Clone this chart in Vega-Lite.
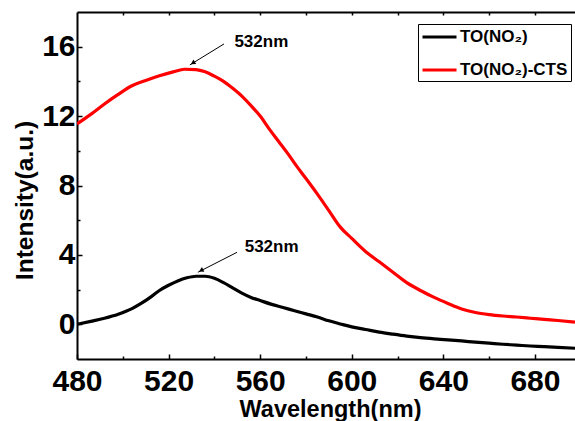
{
  "$schema": "https://vega.github.io/schema/vega-lite/v6.json",
  "width": 498,
  "height": 347,
  "autosize": {"type": "none"},
  "padding": {"left": 77, "top": 12, "right": 0, "bottom": 62},
  "background": "white",
  "config": {
    "view": {"stroke": null},
    "font": "Liberation Sans",
    "axis": {"grid": false, "domainColor": "black", "tickColor": "black", "labelColor": "black", "titleColor": "black", "domainWidth": 2, "tickWidth": 1.5, "labelFont": "Liberation Sans", "titleFont": "Liberation Sans", "labelFontWeight": "bold", "titleFontWeight": "bold"}
  },
  "datasets": {
    "curves": [
      {"wl": 480, "val": 0.0, "s": "TO(NO₂)"},
      {"wl": 486, "val": 0.17, "s": "TO(NO₂)"},
      {"wl": 492, "val": 0.35, "s": "TO(NO₂)"},
      {"wl": 498, "val": 0.58, "s": "TO(NO₂)"},
      {"wl": 504, "val": 0.9, "s": "TO(NO₂)"},
      {"wl": 508, "val": 1.2, "s": "TO(NO₂)"},
      {"wl": 512, "val": 1.55, "s": "TO(NO₂)"},
      {"wl": 516, "val": 1.95, "s": "TO(NO₂)"},
      {"wl": 520, "val": 2.25, "s": "TO(NO₂)"},
      {"wl": 524, "val": 2.5, "s": "TO(NO₂)"},
      {"wl": 528, "val": 2.68, "s": "TO(NO₂)"},
      {"wl": 532, "val": 2.77, "s": "TO(NO₂)"},
      {"wl": 536, "val": 2.77, "s": "TO(NO₂)"},
      {"wl": 540, "val": 2.65, "s": "TO(NO₂)"},
      {"wl": 544, "val": 2.4, "s": "TO(NO₂)"},
      {"wl": 548, "val": 2.1, "s": "TO(NO₂)"},
      {"wl": 552, "val": 1.8, "s": "TO(NO₂)"},
      {"wl": 556, "val": 1.55, "s": "TO(NO₂)"},
      {"wl": 560, "val": 1.37, "s": "TO(NO₂)"},
      {"wl": 565, "val": 1.15, "s": "TO(NO₂)"},
      {"wl": 570, "val": 0.97, "s": "TO(NO₂)"},
      {"wl": 575, "val": 0.78, "s": "TO(NO₂)"},
      {"wl": 580, "val": 0.6, "s": "TO(NO₂)"},
      {"wl": 585, "val": 0.42, "s": "TO(NO₂)"},
      {"wl": 590, "val": 0.2, "s": "TO(NO₂)"},
      {"wl": 595, "val": 0.02, "s": "TO(NO₂)"},
      {"wl": 600, "val": -0.15, "s": "TO(NO₂)"},
      {"wl": 606, "val": -0.3, "s": "TO(NO₂)"},
      {"wl": 612, "val": -0.45, "s": "TO(NO₂)"},
      {"wl": 618, "val": -0.57, "s": "TO(NO₂)"},
      {"wl": 624, "val": -0.68, "s": "TO(NO₂)"},
      {"wl": 630, "val": -0.77, "s": "TO(NO₂)"},
      {"wl": 636, "val": -0.84, "s": "TO(NO₂)"},
      {"wl": 642, "val": -0.9, "s": "TO(NO₂)"},
      {"wl": 648, "val": -0.96, "s": "TO(NO₂)"},
      {"wl": 654, "val": -1.03, "s": "TO(NO₂)"},
      {"wl": 660, "val": -1.09, "s": "TO(NO₂)"},
      {"wl": 666, "val": -1.15, "s": "TO(NO₂)"},
      {"wl": 672, "val": -1.2, "s": "TO(NO₂)"},
      {"wl": 678, "val": -1.25, "s": "TO(NO₂)"},
      {"wl": 684, "val": -1.29, "s": "TO(NO₂)"},
      {"wl": 690, "val": -1.33, "s": "TO(NO₂)"},
      {"wl": 697.5, "val": -1.38, "s": "TO(NO₂)"},
      {"wl": 480, "val": 11.55, "s": "TO(NO₂)-CTS"},
      {"wl": 486, "val": 12.1, "s": "TO(NO₂)-CTS"},
      {"wl": 492, "val": 12.7, "s": "TO(NO₂)-CTS"},
      {"wl": 498, "val": 13.25, "s": "TO(NO₂)-CTS"},
      {"wl": 504, "val": 13.75, "s": "TO(NO₂)-CTS"},
      {"wl": 510, "val": 14.05, "s": "TO(NO₂)-CTS"},
      {"wl": 516, "val": 14.32, "s": "TO(NO₂)-CTS"},
      {"wl": 522, "val": 14.55, "s": "TO(NO₂)-CTS"},
      {"wl": 527, "val": 14.7, "s": "TO(NO₂)-CTS"},
      {"wl": 532, "val": 14.68, "s": "TO(NO₂)-CTS"},
      {"wl": 536, "val": 14.55, "s": "TO(NO₂)-CTS"},
      {"wl": 540, "val": 14.3, "s": "TO(NO₂)-CTS"},
      {"wl": 544, "val": 14.0, "s": "TO(NO₂)-CTS"},
      {"wl": 548, "val": 13.6, "s": "TO(NO₂)-CTS"},
      {"wl": 552, "val": 13.15, "s": "TO(NO₂)-CTS"},
      {"wl": 556, "val": 12.6, "s": "TO(NO₂)-CTS"},
      {"wl": 560, "val": 12.0, "s": "TO(NO₂)-CTS"},
      {"wl": 564, "val": 11.25, "s": "TO(NO₂)-CTS"},
      {"wl": 568, "val": 10.55, "s": "TO(NO₂)-CTS"},
      {"wl": 572, "val": 9.85, "s": "TO(NO₂)-CTS"},
      {"wl": 576, "val": 9.1, "s": "TO(NO₂)-CTS"},
      {"wl": 580, "val": 8.4, "s": "TO(NO₂)-CTS"},
      {"wl": 585, "val": 7.5, "s": "TO(NO₂)-CTS"},
      {"wl": 590, "val": 6.55, "s": "TO(NO₂)-CTS"},
      {"wl": 595, "val": 5.6, "s": "TO(NO₂)-CTS"},
      {"wl": 600, "val": 4.95, "s": "TO(NO₂)-CTS"},
      {"wl": 606, "val": 4.2, "s": "TO(NO₂)-CTS"},
      {"wl": 612, "val": 3.6, "s": "TO(NO₂)-CTS"},
      {"wl": 618, "val": 3.0, "s": "TO(NO₂)-CTS"},
      {"wl": 624, "val": 2.4, "s": "TO(NO₂)-CTS"},
      {"wl": 630, "val": 1.95, "s": "TO(NO₂)-CTS"},
      {"wl": 636, "val": 1.55, "s": "TO(NO₂)-CTS"},
      {"wl": 642, "val": 1.2, "s": "TO(NO₂)-CTS"},
      {"wl": 648, "val": 0.88, "s": "TO(NO₂)-CTS"},
      {"wl": 654, "val": 0.68, "s": "TO(NO₂)-CTS"},
      {"wl": 660, "val": 0.56, "s": "TO(NO₂)-CTS"},
      {"wl": 666, "val": 0.48, "s": "TO(NO₂)-CTS"},
      {"wl": 672, "val": 0.42, "s": "TO(NO₂)-CTS"},
      {"wl": 678, "val": 0.35, "s": "TO(NO₂)-CTS"},
      {"wl": 684, "val": 0.28, "s": "TO(NO₂)-CTS"},
      {"wl": 690, "val": 0.22, "s": "TO(NO₂)-CTS"},
      {"wl": 697.5, "val": 0.13, "s": "TO(NO₂)-CTS"}
    ],
    "arrows": [
      {"peak": "red", "x": 544.2, "y": 16.16, "x2": 529.3, "y2": 14.95},
      {"peak": "black", "x": 549.9, "y": 4.15, "x2": 532.8, "y2": 3.0}
    ],
    "heads": [
      {"peak": "red", "x": 530.6, "y": 15.06},
      {"peak": "black", "x": 534.2, "y": 3.1}
    ],
    "notes": [
      {"label": "532nm", "x": 560.5, "y": 16.27},
      {"label": "532nm", "x": 565.0, "y": 4.44}
    ]
  },
  "resolve": {"axis": {"x": "independent", "y": "independent"}},
  "layer": [
    {
      "data": {"name": "curves"},
      "mark": {"type": "line", "strokeWidth": 3.2, "interpolate": "monotone", "clip": true},
      "encoding": {
        "x": {"field": "wl", "type": "quantitative", "scale": {"domain": [480, 697.5], "nice": false, "zero": false},
          "axis": {"orient": "bottom", "values": [480, 520, 560, 600, 640, 680], "tickSize": -5, "labelFontSize": 30, "labelPadding": 12, "labelFlush": false, "title": "Wavelength(nm)", "titleFontSize": 23.5, "titlePadding": 1, "titleX": 253}},
        "y": {"field": "val", "type": "quantitative", "scale": {"domain": [-2, 18], "nice": false, "zero": false},
          "axis": {"orient": "left", "values": [0, 4, 8, 12, 16], "tickSize": -5, "labelFontSize": 30, "labelPadding": 7, "labelFlush": false, "title": "Intensity(a.u.)", "titleFontSize": 24.5, "titlePadding": 4, "titleY": 188}},
        "color": {"field": "s", "type": "nominal",
          "scale": {"domain": ["TO(NO₂)", "TO(NO₂)-CTS"], "range": ["#000000", "#ff0000"]},
          "legend": {"title": null, "orient": "none", "legendX": 341, "legendY": 12, "strokeColor": "black", "padding": 3, "rowPadding": 15, "symbolType": "M-1,0H3", "symbolSize": 289, "symbolStrokeWidth": 3, "labelFontSize": 17, "labelFontWeight": "bold", "labelFont": "Liberation Sans", "labelColor": "black", "labelOffset": 19, "fillColor": "white"}}
      }
    },
    {
      "data": {"name": "arrows"},
      "mark": {"type": "rule", "color": "black", "strokeWidth": 1},
      "encoding": {
        "x": {"field": "x", "type": "quantitative",
          "axis": {"orient": "top", "values": [500, 520, 540, 560, 580, 600, 620, 640, 660, 680], "tickSize": -3, "labels": false, "title": null}},
        "y": {"field": "y", "type": "quantitative",
          "axis": {"orient": "left", "values": [2, 6, 10, 14], "tickSize": -3, "labels": false, "domain": false, "title": null}},
        "x2": {"field": "x2"},
        "y2": {"field": "y2"}
      }
    },
    {
      "data": {"name": "notes"},
      "mark": {"type": "text", "font": "Liberation Sans", "fontWeight": "bold", "fontSize": 17, "align": "center", "baseline": "middle", "color": "black"},
      "encoding": {
        "x": {"field": "x", "type": "quantitative",
          "axis": {"orient": "bottom", "values": [500, 540, 580, 620, 660], "tickSize": -3, "labels": false, "domain": false, "title": null}},
        "y": {"field": "y", "type": "quantitative", "axis": null},
        "text": {"field": "label"}
      }
    },
    {
      "data": {"name": "heads"},
      "transform": [{"filter": "datum.peak == 'red'"}],
      "mark": {"type": "point", "shape": "triangle-up", "filled": true, "color": "black", "size": 28, "angle": 238, "opacity": 1},
      "encoding": {
        "x": {"field": "x", "type": "quantitative", "axis": null},
        "y": {"field": "y", "type": "quantitative", "axis": null}
      }
    },
    {
      "data": {"name": "heads"},
      "transform": [{"filter": "datum.peak == 'black'"}],
      "mark": {"type": "point", "shape": "triangle-up", "filled": true, "color": "black", "size": 28, "angle": 243, "opacity": 1},
      "encoding": {
        "x": {"field": "x", "type": "quantitative", "axis": null},
        "y": {"field": "y", "type": "quantitative", "axis": null}
      }
    }
  ]
}
